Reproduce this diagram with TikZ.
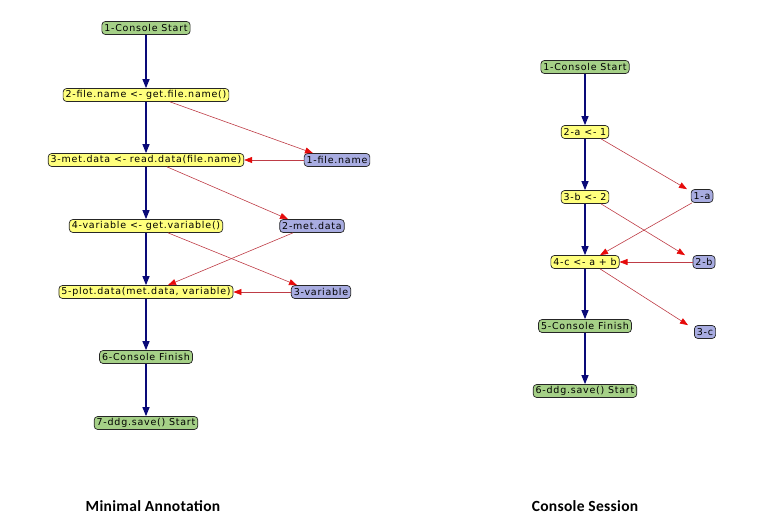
\documentclass[tikz,border=0pt]{standalone}
\usepackage{fontspec}
\setmainfont{DejaVu Sans}
\newfontfamily\nodefont[LetterSpace=8]{DejaVu Sans}
\newfontfamily\capfont[LetterSpace=2]{Carlito}
\usetikzlibrary{arrows.meta}
\definecolor{ngreen}{RGB}{165,208,135}
\definecolor{nyellow}{RGB}{255,255,125}
\definecolor{nblue}{RGB}{168,172,225}
\definecolor{navyline}{RGB}{10,10,120}
\definecolor{redline}{RGB}{190,60,70}
\definecolor{redtip}{RGB}{230,10,10}
\tikzset{
  gbox/.style={draw=black!85,line width=0.7pt,rounded corners=3.5pt,inner xsep=2.5pt,inner ysep=1pt,minimum height=13pt,font=\nodefont\fontsize{9.5}{10}\selectfont},
  green box/.style={gbox,fill=ngreen},
  yellow box/.style={gbox,fill=nyellow},
  blue box/.style={gbox,fill=nblue},
  ctrl/.style={draw=navyline,line width=1.1pt,-{Triangle[width=7pt,length=9pt]}},
  dataflow/.style={draw=redline,line width=0.6pt,-{Triangle[width=6pt,length=8pt,color=redtip]}},
  caption/.style={font=\capfont\bfseries\fontsize{15.5}{17}\selectfont}
}
\begin{document}
\begin{tikzpicture}[x=1pt,y=-1pt]
\useasboundingbox (0,0) rectangle (765,532);
% left graph
\node[green box] (L1) at (146,28) {1-Console Start};
\node[yellow box] (L2) at (146,95) {2-file.name <- get.file.name()};
\node[yellow box] (L3) at (146,160) {3-met.data <- read.data(file.name)};
\node[blue box] (Lf) at (337,160) {1-file.name};
\node[yellow box] (L4) at (146,226) {4-variable <- get.variable()};
\node[blue box] (Lm) at (312,226) {2-met.data};
\node[yellow box] (L5) at (146,292) {5-plot.data(met.data, variable)};
\node[blue box] (Lv) at (321,292) {3-variable};
\node[green box] (L6) at (146,357) {6-Console Finish};
\node[green box] (L7) at (146,423) {7-ddg.save() Start};
\draw[ctrl] (L1) -- (L2);
\draw[ctrl] (L2) -- (L3);
\draw[ctrl] (L3) -- (L4);
\draw[ctrl] (L4) -- (L5);
\draw[ctrl] (L5) -- (L6);
\draw[ctrl] (L6) -- (L7);
\draw[dataflow] ([xshift=24pt]L2.south) -- ([xshift=-24pt]Lf.north);
\draw[dataflow] (Lf.west) -- (L3.east);
\draw[dataflow] ([xshift=21pt]L3.south) -- ([xshift=-24pt]Lm.north);
\draw[dataflow] ([xshift=22pt]L4.south) -- ([xshift=-24pt]Lv.north);
\draw[dataflow] ([xshift=-19pt]Lm.south) -- ([xshift=22pt]L5.north);
\draw[dataflow] (Lv.west) -- (L5.east);
% right graph
\node[green box] (R1) at (585,67) {1-Console Start};
\node[yellow box] (R2) at (585,132) {2-a <- 1};
\node[yellow box] (R3) at (585,197) {3-b <- 2};
\node[blue box] (Ra) at (702,196) {1-a};
\node[yellow box] (R4) at (585,262) {4-c <- a + b};
\node[blue box] (Rb) at (704,262) {2-b};
\node[green box] (R5) at (585,326) {5-Console Finish};
\node[blue box] (Rc) at (705,332) {3-c};
\node[green box] (R6) at (585,391) {6-ddg.save() Start};
\draw[ctrl] (R1) -- (R2);
\draw[ctrl] (R2) -- (R3);
\draw[ctrl] (R3) -- (R4);
\draw[ctrl] (R4) -- (R5);
\draw[ctrl] (R5) -- (R6);
\draw[dataflow] ([xshift=16pt]R2.south) -- ([xshift=-15pt]Ra.north);
\draw[dataflow] ([xshift=16pt]R3.south) -- ([xshift=-19pt]Rb.north);
\draw[dataflow] ([xshift=-10pt]Ra.south) -- ([xshift=15pt]R4.north);
\draw[dataflow] (Rb.west) -- (R4.east);
\draw[dataflow] ([xshift=15pt]R4.south) -- ([xshift=-17pt]Rc.north);
% captions
\node[caption] (capL) at (153,506) {Minimal Annotation};
\node[caption] (capR) at (585,506) {Console Session};
\end{tikzpicture}
\end{document}
